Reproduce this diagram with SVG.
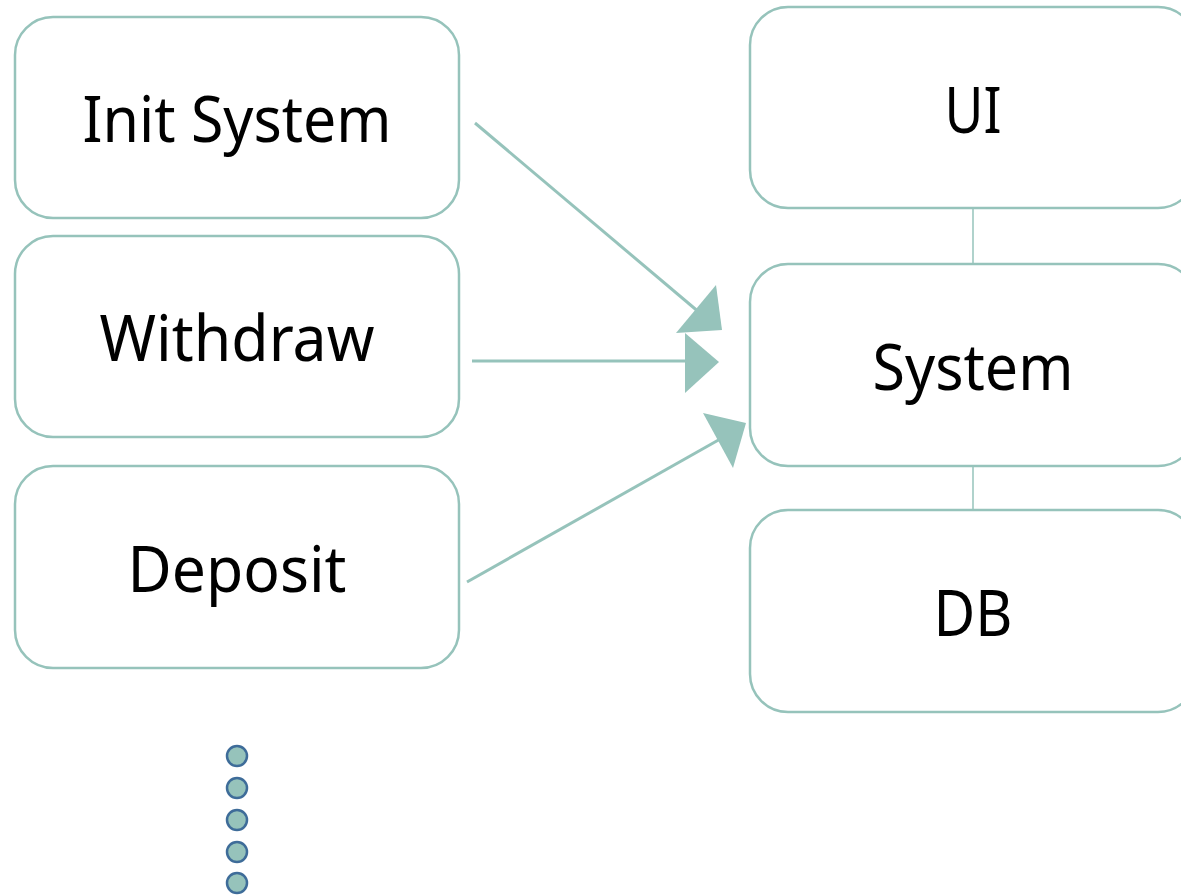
<svg xmlns="http://www.w3.org/2000/svg" width="1181" height="895" viewBox="0 0 1181 895">
<style>
.box{fill:#fff;stroke:#96C3BB;stroke-width:2.5}
.lbl{font-family:"Noto Sans","Noto Sans CJK KR",sans-serif;font-size:63px;fill:#000;text-anchor:middle}
.conn{stroke:#96C3BB;stroke-width:3;fill:none}
.thin{stroke:#A8CEC7;stroke-width:1.8;fill:none}
.head{fill:#96C3BB}
.dot{fill:#96C3BB;stroke:#3E6C99;stroke-width:2.5}
</style>
<rect width="1181" height="895" fill="#fff"/>
<g id="connectors">
<line class="thin" x1="973" y1="208" x2="973" y2="264"/>
<line class="thin" x1="973" y1="466" x2="973" y2="510"/>
<line class="conn" x1="475" y1="123" x2="700" y2="313"/>
<polygon class="head" points="716,285 722,330 676,333"/>
<line class="conn" x1="472" y1="361" x2="690" y2="361"/>
<polygon class="head" points="685,333 685,393 719,362"/>
<line class="conn" x1="467" y1="582" x2="722" y2="438"/>
<polygon class="head" points="703,413 746,423 733,468"/>
</g>
<g id="init-system"><rect class="box" x="15" y="17" width="444" height="201" rx="38"/><text class="lbl" x="237" y="142" textLength="309" lengthAdjust="spacingAndGlyphs">Init System</text></g>
<g id="withdraw"><rect class="box" x="15" y="236" width="444" height="201" rx="38"/><text class="lbl" x="237" y="361" textLength="275" lengthAdjust="spacingAndGlyphs">Withdraw</text></g>
<g id="deposit"><rect class="box" x="15" y="466" width="444" height="202" rx="38"/><text class="lbl" x="237" y="592" textLength="219" lengthAdjust="spacingAndGlyphs">Deposit</text></g>
<g id="ui"><rect class="box" x="750" y="7" width="446" height="201" rx="38"/><text class="lbl" x="973" y="133" textLength="57" lengthAdjust="spacingAndGlyphs">UI</text></g>
<g id="system"><rect class="box" x="750" y="264" width="446" height="202" rx="38"/><text class="lbl" x="973" y="390" textLength="201" lengthAdjust="spacingAndGlyphs">System</text></g>
<g id="db"><rect class="box" x="750" y="510" width="446" height="202" rx="38"/><text class="lbl" x="973" y="636" textLength="79" lengthAdjust="spacingAndGlyphs">DB</text></g>
<g id="ellipsis">
<circle class="dot" cx="237" cy="756" r="10"/>
<circle class="dot" cx="237" cy="788" r="10"/>
<circle class="dot" cx="237" cy="820" r="10"/>
<circle class="dot" cx="237" cy="852" r="10"/>
<circle class="dot" cx="237" cy="883" r="10"/>
</g>
</svg>
